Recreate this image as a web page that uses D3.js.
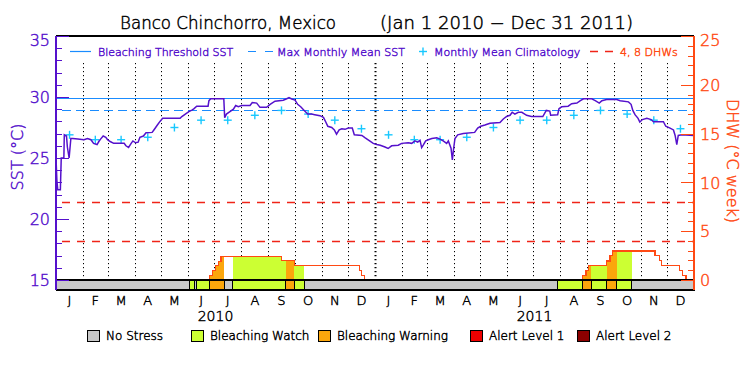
<!DOCTYPE html>
<html><head><meta charset="utf-8">
<script src="https://cdn.jsdelivr.net/npm/d3@7"></script>
<style>
body{margin:0;background:#fff}
svg text{font-family:"DejaVu Sans","Liberation Sans",Arial,sans-serif;font-weight:200;stroke-width:0.45px}
</style>
</head><body>
<svg id="chart" width="750" height="375"></svg>
<script>
// ---------------- DATA ----------------
const titleLeft = "Banco Chinchorro, Mexico";
const titleRight = "(Jan 1 2010 \u2212 Dec 31 2011)";
const monthLabels = ["J","F","M","A","M","J","J","A","S","O","N","D"];
const yearLabels = ["2010","2011"];
const sstTicks = [15,20,25,30,35];
const dhwTicks = [0,5,10,15,20,25];
const thresholdSST = 29.9;
const mmmSST = 28.9;
const dhwRefs = [4,8];
// monthly mean climatology (Jan..Dec), repeated each year
const climatology = [26.9,26.5,26.5,26.7,27.5,28.1,28.1,28.5,28.9,28.6,28.1,27.4];
// SST (days since Jan 1 2010, value)
const sstDays = [0,1,2,5,6,9,9.5,12,13,15,17,19,25,32,36,40,43,47,49,51,54,57,59,62,66,78,80,83,86,88,91,94,96,100,103,110,112,116,119,122,142,144,148,152,156,158,161,174,175,177,192,193,195,199,203,205.6,208.6,212.5,222,224.6,229.6,233.4,241,245,250.6,260,264,266.6,269.7,273.5,276.5,280,284,288,292.5,296,302,306,308,311,315.5,318.5,321,324,327,330.7,334.4,339,341.3,350,353.8,358,363,367,371,376.4,380,384,391.6,395.5,403,407,410.7,413.8,416.5,418.4,420.2,423,426,430,435.6,439.4,443,447,448.9,452,453.5,455,456.5,459.6,466,479,482.5,486,490.8,496.6,508,511.8,515.6,519.5,522,525,529,533,538.5,544,557,561,565,566,574,575.5,578.6,586,590,596,600,603.6,613,617,621.6,624.6,630,641.7,645.5,655,658,660,662.5,666,668,671,676,681,683.6,695,697.7,702.6,706.5,708.4,710.3,712,716,730];
const sstValues = [25.0,23.2,22.4,22.4,25.0,25.0,26.9,26.8,25.9,25.0,26.6,26.6,26.55,26.5,26.6,26.5,26.2,26.1,26.35,26.55,26.8,26.7,26.5,26.35,26.2,26.2,26.0,25.87,26.2,26.4,26.25,26.3,26.7,26.8,27.07,27.1,27.3,27.7,28.0,28.25,28.25,28.4,28.6,28.8,28.95,29.05,29.25,29.25,29.7,29.85,29.85,28.3,28.6,28.8,29.0,29.3,29.2,29.3,29.3,29.55,29.5,29.15,29.15,29.4,29.66,29.74,29.86,29.95,29.84,29.75,29.4,29.2,28.9,28.6,28.6,28.55,28.47,28.33,28.05,27.6,27.5,27.3,26.95,27.3,27.4,27.35,27.45,27.45,26.9,26.85,26.65,26.45,26.2,26.1,26.05,25.9,25.78,26.0,26.05,26.2,26.25,26.2,26.4,26.3,26.45,25.85,26.05,26.4,26.5,26.6,26.65,26.55,26.4,26.2,26.4,25.8,24.84,25.8,26.6,26.9,27.0,27.1,27.45,27.6,27.7,27.85,27.9,28.2,28.4,28.5,28.75,28.6,28.75,28.75,28.5,28.4,28.4,28.9,28.85,28.5,28.55,29.05,29.2,29.25,29.45,29.5,29.7,29.85,29.85,29.7,29.5,29.7,29.8,29.8,29.7,29.6,29.4,28.9,28.55,28.25,27.95,28.15,28.25,28.15,27.97,27.97,27.6,27.45,27.3,26.85,26.1,26.85,26.9,26.85];
// Degree heating weeks (step values starting at day)
const dhwDays = [0,175.4,179.2,182.7,185.7,188.8,258.2,272.7,347,349.7,353.5,602.6,606.4,609,630,633.9,637,685.4,690.3,692.9,713,717,720.8,730];
const dhwValues = [0,0.5,1.0,1.5,1.9,2.4,2.0,1.5,0.95,0.5,0,0.5,1.0,1.5,1.95,2.55,2.97,2.55,2.0,1.5,1.0,0.5,0,0];
// Stress level segments
const stressStart = [0,153.3,158.2,160.2,175.4,192.5,202,262.8,272.7,283.8,573.6,602.6,612.5,630,641.5,658.7];
const stressEnd   = [153.3,158.2,160.2,175.4,192.5,202,262.8,272.7,283.8,573.6,602.6,612.5,630,641.5,658.7,730];
const stressLevel = [0,1,0,1,2,0,1,2,1,0,1,2,1,2,1,0];
const stressNames = ["No Stress","Bleaching Watch","Bleaching Warning","Alert Level 1","Alert Level 2"];
const stressColors = ["#c8c8c8","#ccff33","#fba60c","#ee0000","#8b0000"];

// ---------------- DRAW ----------------
const svg = d3.select("#chart");
const L = 56, R = 694, T = 36, B = 280, SB = 290;
const PURPLE = "#5511cc", ORANGE = "#ff4a14", RED = "#f02418", BLUE = "#1a8cff", CYAN = "#18c8ff";
const t0 = Date.UTC(2010,0,1), t1 = Date.UTC(2012,0,1);
const day = d => new Date(t0 + d*864e5);
const x = d3.scaleUtc().domain([t0,t1]).range([L,R]);
const yS = d3.scaleLinear().domain([15,35]).range([B,T]);
const yD = d3.scaleLinear().domain([0,25]).range([B,T]);
const px = v => Math.round(v) + 0.5;
const txt = (sel,color)=>sel.attr("fill",color).attr("stroke",color);

// title
txt(svg.append("text").attr("x",120).attr("y",29).attr("font-size",17)
  .attr("textLength",216).attr("lengthAdjust","spacingAndGlyphs").text(titleLeft),"#000");
txt(svg.append("text").attr("x",380).attr("y",29).attr("font-size",17)
  .attr("textLength",253).attr("lengthAdjust","spacingAndGlyphs").text(titleRight),"#000");

// month dotted lines
const months = d3.utcMonths(t0,t1);
svg.append("g").selectAll("line").data(months.slice(1)).join("line")
  .attr("x1",d=>px(x(d))).attr("x2",d=>px(x(d))).attr("y1",63).attr("y2",B)
  .attr("stroke","#000")
  .attr("stroke-width",d=>d.getUTCMonth()===0?2:1)
  .attr("stroke-dasharray","1.2,2.8");

// DHW fill under curve coloured by stress level
const dhwAt = d => dhwValues[Math.max(0,d3.bisectRight(dhwDays,d)-1)];
const area = d3.area().curve(d3.curveStepAfter).x(p=>x(day(p[0]))).y0(yD(0)).y1(p=>yD(p[1]));
stressLevel.forEach((lv,i)=>{
  if(lv===0) return;
  const s=stressStart[i], e=stressEnd[i];
  const pts=[[s,dhwAt(s)]];
  dhwDays.forEach(d=>{ if(d>s && d<e) pts.push([d,dhwAt(d)]); });
  pts.push([e,dhwAt(e-0.01)]);
  svg.append("path").attr("d",area(pts)).attr("fill",stressColors[lv]).attr("shape-rendering","crispEdges");
});
// DHW line
svg.append("path")
  .attr("d",d3.line().curve(d3.curveStepAfter).x(d=>x(day(d))).y((d,i)=>yD(dhwValues[i]))(dhwDays))
  .attr("fill","none").attr("stroke",ORANGE).attr("stroke-width",1.1).attr("shape-rendering","crispEdges");

// DHW reference lines
svg.append("g").selectAll("line").data(dhwRefs).join("line")
  .attr("x1",L+6).attr("x2",R).attr("y1",d=>px(yD(d))).attr("y2",d=>px(yD(d)))
  .attr("stroke",RED).attr("stroke-width",1.3).attr("stroke-dasharray","8,7");

// threshold & MMM
svg.append("line").attr("x1",L).attr("x2",R).attr("y1",px(yS(thresholdSST))).attr("y2",px(yS(thresholdSST)))
  .attr("stroke",BLUE).attr("stroke-width",1.2);
svg.append("line").attr("x1",L+6).attr("x2",R).attr("y1",px(yS(mmmSST))).attr("y2",px(yS(mmmSST)))
  .attr("stroke",BLUE).attr("stroke-width",1.2).attr("stroke-dasharray","9,5");

// climatology crosses
const climPts = [];
months.forEach(m=>{
  const nxt = d3.utcMonth.offset(m,1);
  climPts.push({t:new Date((+m + +nxt)/2), v:climatology[m.getUTCMonth()]});
});
const cg = svg.append("g").attr("stroke",CYAN).attr("stroke-width",1.4);
climPts.forEach(p=>{
  const cx=x(p.t), cy=yS(p.v);
  cg.append("line").attr("x1",cx-4).attr("x2",cx+4).attr("y1",cy).attr("y2",cy);
  cg.append("line").attr("x1",cx).attr("x2",cx).attr("y1",cy-4).attr("y2",cy+4);
});

// SST line
svg.append("path")
  .attr("d",d3.line().x(d=>x(day(d))).y((d,i)=>yS(sstValues[i]))(sstDays))
  .attr("fill","none").attr("stroke",PURPLE).attr("stroke-width",1.5);

// stress strip
svg.append("g").selectAll("rect").data(stressLevel).join("rect")
  .attr("x",(d,i)=>x(day(stressStart[i]))).attr("width",(d,i)=>x(day(stressEnd[i]))-x(day(stressStart[i])))
  .attr("y",B).attr("height",SB-B).attr("fill",d=>stressColors[d])
  .attr("stroke","#000").attr("stroke-width",1).attr("shape-rendering","crispEdges");

// frame
const fr = svg.append("g").attr("stroke","#000").attr("stroke-width",1.2).attr("shape-rendering","crispEdges");
fr.append("line").attr("x1",L).attr("x2",R).attr("y1",T).attr("y2",T);
fr.append("line").attr("x1",L).attr("x2",R).attr("y1",SB).attr("y2",SB);
fr.append("line").attr("x1",L).attr("x2",R).attr("y1",B).attr("y2",B);

// left axis
const la = svg.append("g").attr("transform",`translate(${L},0)`);
la.call(d3.axisLeft(yS).tickValues(d3.range(15,36,1)).tickSize(-6).tickFormat(""));
la.call(g=>g.select(".domain").remove());
const la2 = svg.append("g").attr("transform",`translate(${L},0)`);
la2.call(d3.axisLeft(yS).tickValues(sstTicks).tickSize(-13).tickPadding(6));
la2.select(".domain").remove();
[la,la2].forEach(g=>g.selectAll("line").attr("stroke",PURPLE).attr("shape-rendering","crispEdges"));
txt(la2.selectAll("text"),PURPLE).attr("font-size",16).attr("font-family",null)
  .attr("dy",d=>d===35?"0.6em":"0.36em");
svg.append("line").attr("x1",L).attr("x2",L).attr("y1",T).attr("y2",SB).attr("stroke",PURPLE).attr("stroke-width",1.5).attr("shape-rendering","crispEdges");
txt(svg.append("text").attr("transform","translate(23,157) rotate(-90)").attr("text-anchor","middle")
  .attr("font-size",16).text("SST (\u00B0C)"),PURPLE);

// right axis
const ra = svg.append("g").attr("transform",`translate(${R},0)`);
ra.call(d3.axisRight(yD).tickValues(d3.range(0,26,1)).tickSize(-6).tickFormat(""));
ra.select(".domain").remove();
const ra2 = svg.append("g").attr("transform",`translate(${R},0)`);
ra2.call(d3.axisRight(yD).tickValues(dhwTicks).tickSize(-13).tickPadding(6));
ra2.select(".domain").remove();
[ra,ra2].forEach(g=>g.selectAll("line").attr("stroke",ORANGE).attr("shape-rendering","crispEdges"));
txt(ra2.selectAll("text"),ORANGE).attr("font-size",16).attr("font-family",null)
  .attr("dy",d=>d===25?"0.6em":"0.36em");
svg.append("line").attr("x1",R).attr("x2",R).attr("y1",T).attr("y2",SB).attr("stroke",ORANGE).attr("stroke-width",1.5).attr("shape-rendering","crispEdges");
txt(svg.append("text").attr("transform","translate(727,161) rotate(90)").attr("text-anchor","middle")
  .attr("font-size",16).text("DHW (\u00B0C week)"),ORANGE);

// month labels
txt(svg.append("g").selectAll("text").data(months).join("text")
  .attr("x",d=>x(new Date((+d + +d3.utcMonth.offset(d,1))/2))).attr("y",305)
  .attr("text-anchor","middle").attr("font-size",13)
  .text(d=>monthLabels[d.getUTCMonth()]),"#000");
txt(svg.append("g").selectAll("text").data(yearLabels).join("text")
  .attr("x",(d,i)=>x(new Date((Date.UTC(2010+i,0,1)+Date.UTC(2011+i,0,1))/2))).attr("y",321)
  .attr("text-anchor","middle").attr("font-size",14).text(d=>d),"#000");

// top legend
const lgY = 51.5;
svg.append("line").attr("x1",70).attr("x2",91).attr("y1",lgY).attr("y2",lgY).attr("stroke",BLUE).attr("stroke-width",1.2);
txt(svg.append("text").attr("x",98).attr("y",lgY+4).attr("font-size",11).text("Bleaching Threshold SST"),PURPLE);
svg.append("line").attr("x1",248).attr("x2",273).attr("y1",lgY).attr("y2",lgY).attr("stroke",BLUE).attr("stroke-width",1.2).attr("stroke-dasharray","8,9");
txt(svg.append("text").attr("x",277).attr("y",lgY+4).attr("font-size",11).text("Max Monthly Mean SST"),PURPLE);
svg.append("line").attr("x1",419).attr("x2",427).attr("y1",lgY).attr("y2",lgY).attr("stroke",CYAN).attr("stroke-width",1.4);
svg.append("line").attr("x1",423).attr("x2",423).attr("y1",lgY-4).attr("y2",lgY+4).attr("stroke",CYAN).attr("stroke-width",1.4);
txt(svg.append("text").attr("x",434).attr("y",lgY+4).attr("font-size",11).text("Monthly Mean Climatology"),PURPLE);
svg.append("line").attr("x1",590).attr("x2",613).attr("y1",lgY).attr("y2",lgY).attr("stroke",RED).attr("stroke-width",1.3).attr("stroke-dasharray","8,7");
txt(svg.append("text").attr("x",620).attr("y",lgY+4).attr("font-size",11).text("4, 8 DHWs"),ORANGE);

// bottom legend
const bx = [87,191,318,470,577];
const bl = svg.append("g").selectAll("g").data(stressNames).join("g")
  .attr("transform",(d,i)=>`translate(${bx[i]},330)`);
bl.append("rect").attr("width",12).attr("height",11).attr("fill",(d,i)=>stressColors[i]).attr("stroke","#000").attr("stroke-width",1).attr("shape-rendering","crispEdges");
txt(bl.append("text").attr("x",19).attr("y",10).attr("font-size",12).text(d=>d),"#000");
</script>
</body></html>
